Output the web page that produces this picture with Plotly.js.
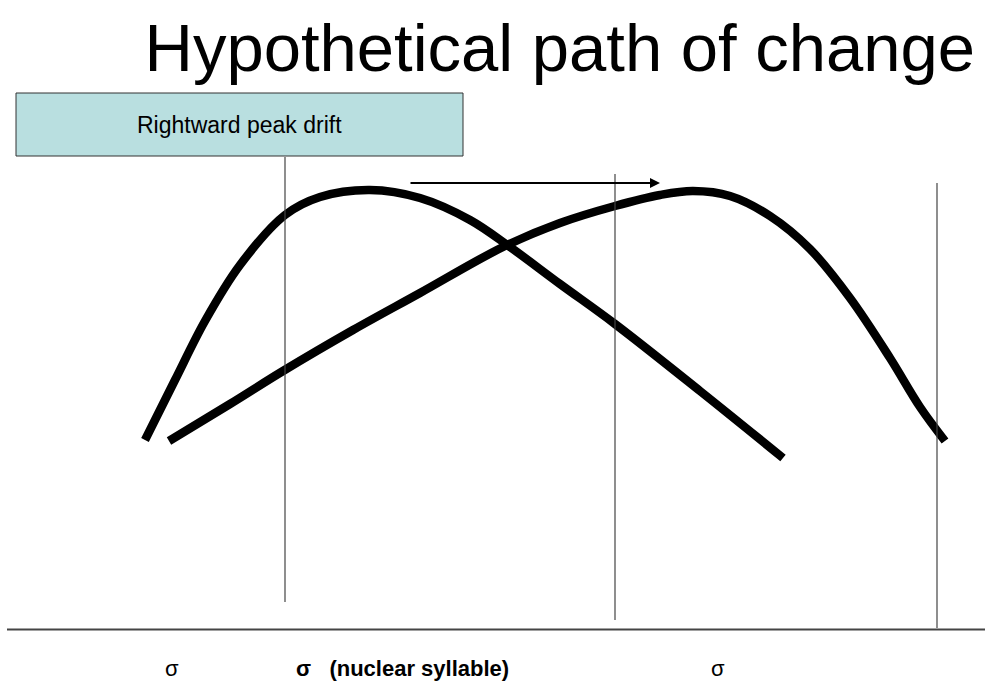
<!DOCTYPE html>
<html>
<head>
<meta charset="utf-8">
<script src="https://cdn.plot.ly/plotly-3.0.1.min.js"></script>
<style>html,body{margin:0;padding:0;background:#fff;}#chart{width:985px;height:698px;}</style>
</head>
<body>
<div id="chart"></div>
<script>
// Curve before the change (peak on the left)
const curve1X = [145, 175, 205, 240, 285, 320, 370, 420, 470, 510, 560, 615, 700, 783];
const curve1Y = [440, 380, 321, 265, 215, 197, 190, 198, 220, 247, 284, 324, 391, 458];
// Curve after the change (peak drifted right)
const curve2X = [169, 230, 283, 353, 420, 503, 560, 615, 660, 693, 730, 770, 810, 850, 890, 920, 945];
const curve2Y = [441, 404, 371, 330, 293, 247, 223, 206, 195, 191, 196, 216, 249, 298, 358, 407, 441];
// Syllable boundary lines
const boundaryX = [285, 615, 937];
const boundaryTop = [157, 174, 183];
const boundaryBottom = [602, 620, 628];
// Baseline
const baseX = [7, 985];
const baseY = [629.5, 629.5];
// Drift arrow
const arrowFrom = [409, 183];
const arrowTo = [660, 183];
// Texts
const titleText = 'Hypothetical path of change';
const boxText = 'Rightward peak drift';
const boxCorners = [16, 93, 463, 156];
const labelX = [172, 294, 718];
const labelText = ['σ', '<b>σ   (nuclear syllable)</b>', 'σ'];
const labelAnchor = ['center', 'left', 'center'];
const labelY = 668;

const font = '"Liberation Sans", Arial, sans-serif';

const traces = [
  {x: curve1X, y: curve1Y, mode: 'lines', line: {color: '#000', width: 8.5, shape: 'spline', smoothing: 1}, hoverinfo: 'skip'},
  {x: curve2X, y: curve2Y, mode: 'lines', line: {color: '#000', width: 8.5, shape: 'spline', smoothing: 1}, hoverinfo: 'skip'},
  {x: baseX, y: baseY, mode: 'lines', line: {color: '#444', width: 2}, hoverinfo: 'skip'}
];
boundaryX.forEach((bx, i) => {
  traces.push({x: [bx, bx], y: [boundaryTop[i], boundaryBottom[i]], mode: 'lines',
    line: {color: '#444', width: 1.2}, hoverinfo: 'skip'});
});

const annotations = [
  {x: boxCorners[0] / 2 + boxCorners[2] / 2, y: (boxCorners[1] + boxCorners[3]) / 2, xref: 'x', yref: 'y',
   text: boxText, showarrow: false, font: {family: font, size: 23, color: '#000'}},
  {x: arrowTo[0], y: arrowTo[1], ax: arrowFrom[0], ay: arrowFrom[1], axref: 'x', ayref: 'y', xref: 'x', yref: 'y',
   text: '', showarrow: true, arrowhead: 2, arrowsize: 1, arrowwidth: 2, arrowcolor: '#000'}
];
labelX.forEach((lx, i) => {
  annotations.push({x: lx, y: labelY, xref: 'x', yref: 'y', text: labelText[i], showarrow: false,
    xanchor: labelAnchor[i], font: {family: font, size: 22, color: '#000'}});
});

const layout = {
  width: 985, height: 698,
  margin: {l: 0, r: 0, t: 0, b: 0},
  paper_bgcolor: '#fff', plot_bgcolor: '#fff',
  showlegend: false,
  title: {text: titleText, x: 0.99, xanchor: 'right', y: 0.932, yanchor: 'middle', yref: 'paper',
          font: {family: font, size: 67, color: '#000'}},
  xaxis: {range: [0, 985], visible: false, fixedrange: true},
  yaxis: {range: [698, 0], visible: false, fixedrange: true},
  shapes: [
    {type: 'rect', xref: 'x', yref: 'y', x0: boxCorners[0], y0: boxCorners[1], x1: boxCorners[2], y1: boxCorners[3],
     fillcolor: '#b9dfe0', line: {color: '#333', width: 1}, layer: 'below'}
  ],
  annotations: annotations
};

Plotly.newPlot('chart', traces, layout, {staticPlot: true, displayModeBar: false});
</script>
</body>
</html>
